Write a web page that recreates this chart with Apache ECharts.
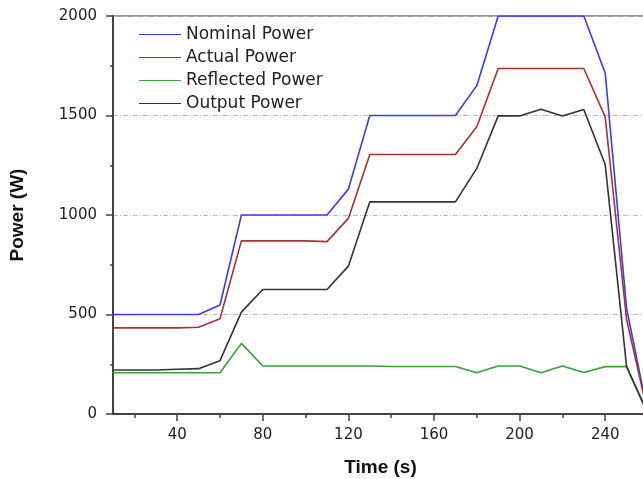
<!DOCTYPE html>
<html>
<head>
<meta charset="utf-8">
<script src="https://cdn.jsdelivr.net/npm/echarts@6/dist/echarts.min.js"></script>
<style>html,body{margin:0;padding:0;background:#fff;}#c{width:643px;height:479px;}</style>
</head>
<body>
<div id="c"></div>
<script>
const times = [10,20,30,40,50,60,70,80,90,100,110,120,130,140,150,160,170,180,190,200,210,220,230,240,250,260];
const nominalPower   = [500,500,500,500,500,548,1000,1000,1000,1000,1000,1130,1500,1500,1500,1500,1500,1650,2000,2000,2000,2000,2000,1714,530,0];
const actualPower    = [433,433,433,433,436,479,870,870,870,870,866,983,1304,1304,1304,1304,1304,1443,1736,1736,1736,1736,1736,1493,475,0];
const reflectedPower = [207,207,207,207,207,207,355,241,241,241,241,241,241,239,239,239,239,207,241,241,207,241,209,238,238,0];
const outputPower    = [221,221,221,225,228,268,512,626,626,626,626,743,1066,1066,1066,1066,1066,1234,1498,1498,1531,1498,1530,1254,238,0];
const seriesNames = ['Nominal Power','Actual Power','Reflected Power','Output Power'];
const seriesColors = ['#3a3aff','#a83232','#3a9e3a','#333333'];
const xMajorTicks = [40,80,120,160,200,240];
const xMinorTicks = [20,60,100,140,180,220];

const pair = (arr) => times.map((t,i) => [t, arr[i]]);
const allData = [nominalPower, actualPower, reflectedPower, outputPower];

const chart = echarts.init(document.getElementById('c'), null, {renderer:'canvas'});
const font = '"DejaVu Sans", sans-serif';
const boldFont = 'Arial, "Liberation Sans", sans-serif';
chart.setOption({
  animation:false,
  grid:{left:113, top:16, width:535, height:398, outerBoundsMode:'none', containLabel:false,
        show:true, borderColor:'#333', borderWidth:1.2, backgroundColor:'transparent'},
  legend:{
    left:139, top:26, orient:'vertical', itemGap:6, itemWidth:42, itemHeight:15,
    padding:0,
    icon:'path://M0,7 L42,7 L42,8 L0,8 Z',
    textStyle:{fontFamily:font, fontSize:17, lineHeight:17, color:'#222'},
    data: seriesNames.map((n,i)=>({name:n, itemStyle:{color:seriesColors[i]}}))
  },
  xAxis:[{
    type:'value', min:10, max:260, position:'bottom',
    name:'Time (s)', nameLocation:'middle', nameGap:44,
    nameTextStyle:{fontFamily:boldFont, fontSize:19, fontWeight:'bold', color:'#111'},
    axisLine:{show:true, onZero:false, lineStyle:{color:'#444', width:2}},
    axisTick:{show:true, inside:false, length:7, customValues:xMajorTicks, lineStyle:{color:'#444', width:1.5}},
    axisLabel:{customValues:xMajorTicks, fontFamily:font, fontSize:15, color:'#222', margin:14},
    splitLine:{show:false}
  },{
    type:'value', min:10, max:260, position:'bottom',
    axisLine:{show:false},
    axisTick:{show:true, length:4, customValues:xMinorTicks, lineStyle:{color:'#444', width:1.5}},
    axisLabel:{show:false},
    splitLine:{show:false}
  }],
  yAxis:{
    type:'value', min:0, max:2000, interval:500,
    name:'Power (W)', nameLocation:'middle', nameGap:86, nameRotate:90,
    nameTextStyle:{fontFamily:boldFont, fontSize:19, fontWeight:'bold', color:'#111'},
    axisLine:{show:true, lineStyle:{color:'#444', width:2}},
    axisTick:{show:true, length:7, lineStyle:{color:'#444', width:1.5}},
    minorTick:{show:true, splitNumber:2, length:3, lineStyle:{color:'#444', width:1.5}},
    axisLabel:{fontFamily:font, fontSize:15, color:'#222', margin:16, formatter:(v)=>String(v)},
    splitLine:{show:true, lineStyle:{color:'#bbb', width:1, type:[5,2,1,2]}}
  },
  series: seriesNames.map((n,i)=>({
    name:n, type:'line', data:pair(allData[i]), showSymbol:false, symbol:'none',
    lineStyle:{color:seriesColors[i], width:1.6}, itemStyle:{color:seriesColors[i]},
    clip:true, z: 2+i
  }))
});
</script>
</body>
</html>
